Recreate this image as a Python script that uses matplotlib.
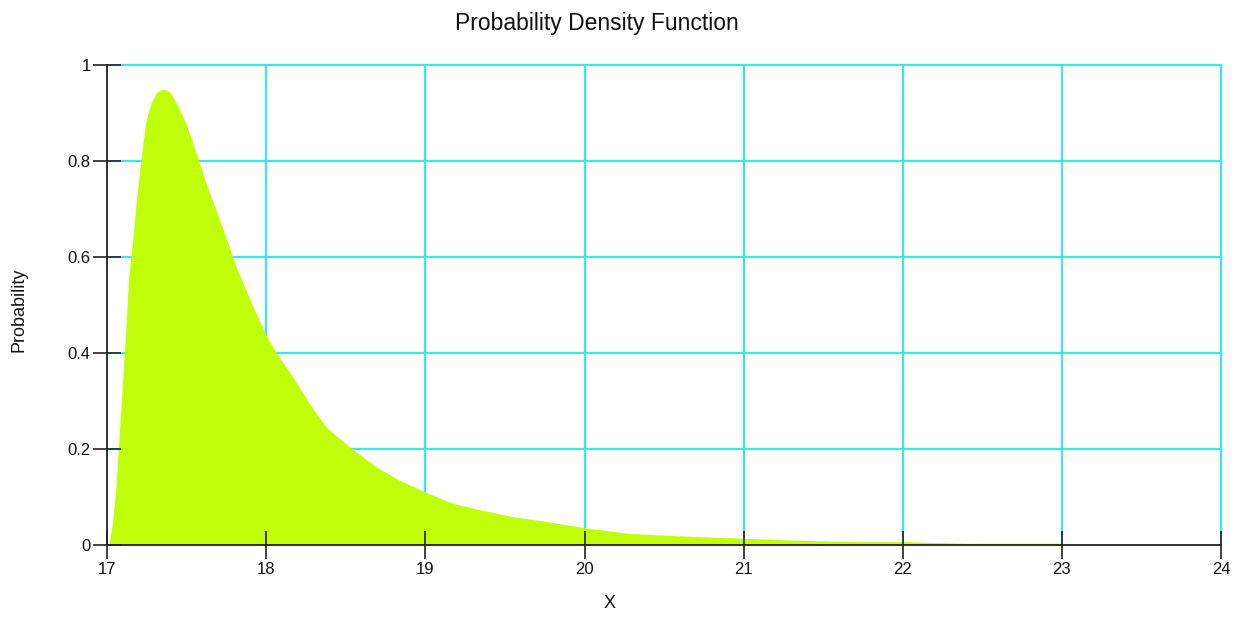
import matplotlib
matplotlib.use("Agg")
import matplotlib.pyplot as plt

plt.rcParams['font.family'] = ['Liberation Sans', 'DejaVu Sans']

# Density curve sampled along x
x_vals = [17.00, 17.013, 17.033, 17.055, 17.075, 17.096, 17.118, 17.134, 17.16,
          17.18, 17.20, 17.222, 17.243, 17.275, 17.306, 17.335, 17.358, 17.38,
          17.40, 17.442, 17.495, 17.558, 17.62, 17.684, 17.747, 17.81, 17.872,
          17.935, 17.998, 18.04, 18.08, 18.165, 18.27, 18.375, 18.52, 18.69,
          18.836, 18.994, 19.17, 19.35, 19.55, 19.76, 20.0, 20.28, 20.6, 21.0,
          21.33, 21.71, 22.0, 22.4, 23.0, 23.0]
pdf_vals = [0.0, 0.0035, 0.045, 0.121, 0.226, 0.337, 0.455, 0.552, 0.635,
            0.705, 0.767, 0.83, 0.882, 0.92, 0.941, 0.948, 0.949, 0.947,
            0.941, 0.917, 0.878, 0.819, 0.755, 0.698, 0.640, 0.580, 0.531,
            0.483, 0.438, 0.413, 0.392, 0.351, 0.295, 0.246, 0.205, 0.163,
            0.135, 0.111, 0.087, 0.073, 0.059, 0.049, 0.036, 0.024, 0.019, 0.014,
            0.010, 0.007, 0.007, 0.0035, 0.0035, 0.0]

x_ticks = [17, 18, 19, 20, 21, 22, 23, 24]
y_ticks = [0, 0.2, 0.4, 0.6, 0.8, 1]
y_tick_labels = ['0', '0.2', '0.4', '0.6', '0.8', '1']

fig = plt.figure(figsize=(12.39, 6.23), dpi=100)
ax = fig.add_axes([0.0865, 0.1252, 0.8990, 0.7705])

# Grid drawn beneath the filled area
grid_color = '#22F0F0'
for xv in x_ticks[1:]:
    ax.axvline(xv, color=grid_color, linewidth=1.4, zorder=1, clip_on=False)
for yv in y_ticks[1:]:
    ax.axhline(yv, color=grid_color, linewidth=1.4, zorder=1, clip_on=False)

ax.fill_between(x_vals, pdf_vals, 0, color='#BFFF0A', linewidth=0, zorder=2)

ax.set_xlim(17, 24)
ax.set_ylim(0, 1)
ax.set_xticks(x_ticks)
ax.set_yticks(y_ticks)
ax.set_yticklabels(y_tick_labels)
ax.grid(False)
ax.set_axisbelow(False)

for side in ('top', 'right'):
    ax.spines[side].set_visible(False)
for side in ('left', 'bottom'):
    ax.spines[side].set_color('#222222')
    ax.spines[side].set_linewidth(1.3)
    ax.spines[side].set_zorder(4)

ax.tick_params(axis='both', direction='inout', length=20, width=1.2,
               color='#222222', labelsize=12, labelcolor='#111111')
ax.tick_params(axis='x', pad=2)
ax.tick_params(axis='y', pad=2)

fig.text(0.482, 0.963, 'Probability Density Function', ha='center', va='center',
         fontsize=16.5, color='#111111')
fig.text(0.492, 0.018, 'X', ha='center', va='bottom', fontsize=13, color='#111111')
fig.text(0.015, 0.503, 'Probability', ha='center', va='center', rotation=90,
         fontsize=13, color='#111111')

fig.savefig('out.png', dpi=100, facecolor='white')
